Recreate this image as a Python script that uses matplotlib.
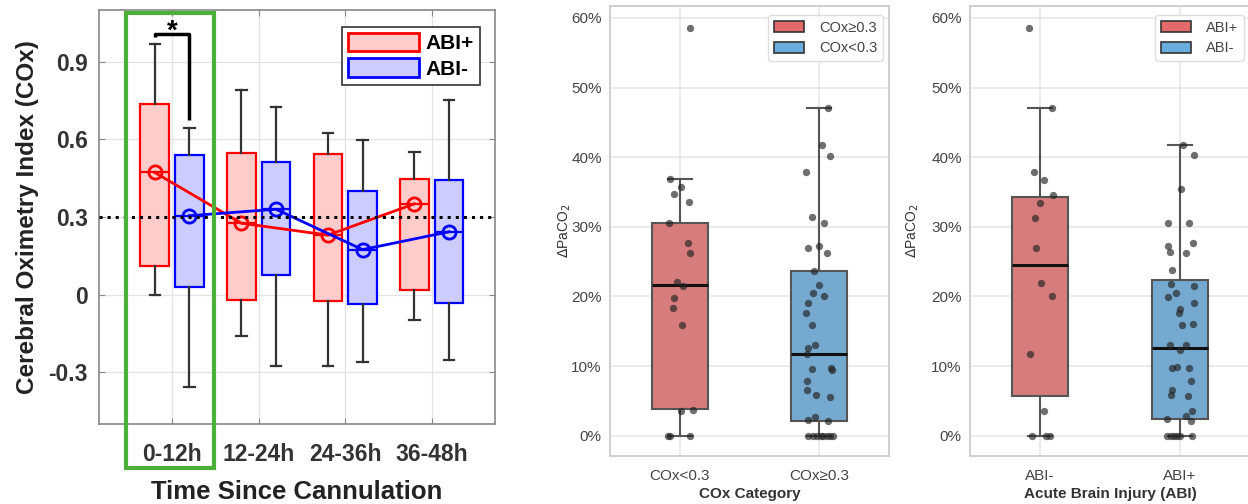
import matplotlib
matplotlib.use("Agg")
import matplotlib.pyplot as plt
from matplotlib.patches import Patch, Rectangle

plt.rcParams['font.family'] = ['Liberation Sans', 'DejaVu Sans']

# ---- panel 1: COx over time, ABI+ vs ABI- ----
groups = ['0-12h', '12-24h', '24-36h', '36-48h']
abi_pos_lo = [0.0, -0.158, -0.276, -0.098]
abi_pos_q1 = [0.109, -0.019, -0.026, 0.017]
abi_pos_med = [0.472, 0.276, 0.230, 0.351]
abi_pos_q3 = [0.736, 0.548, 0.545, 0.447]
abi_pos_hi = [0.970, 0.789, 0.623, 0.551]
abi_neg_lo = [-0.357, -0.274, -0.261, -0.252]
abi_neg_q1 = [0.031, 0.076, -0.037, -0.033]
abi_neg_med = [0.305, 0.330, 0.174, 0.243]
abi_neg_q3 = [0.539, 0.513, 0.402, 0.443]
abi_neg_hi = [0.643, 0.725, 0.598, 0.753]
cox_threshold = 0.3

# ---- panel 2: dPaCO2 by COx category ----
cox_cats = ['COx<0.3', 'COx\u22650.3']
cox_lo_vals = [58.6, 36.8, 34.7, 35.7, 33.6, 30.5, 27.7, 26.3, 22.1, 21.5, 19.8, 18.4,
               15.9, 3.6, 3.7, 0, 0, 0]
cox_lo_jit = [0.072, -0.072, -0.041, 0.007, 0.065, -0.079, 0.058, 0.074, -0.019, 0.022,
              -0.041, -0.048, 0.014, 0.010, 0.094, -0.085, -0.070, 0.070]
cox_hi_vals = [47.0, 41.7, 40.2, 37.8, 31.4, 30.5, 26.9, 27.2, 26.3, 23.7, 21.7, 20.5,
               20.1, 19.0, 17.7, 15.9, 13.1, 12.6, 11.8, 9.6, 9.7, 9.4, 7.9, 6.6, 5.8,
               5.5, 2.3, 2.7, 2.1, 0, 0, 0, 0, 0, 0, 0, 0]
cox_hi_jit = [0.060, 0.017, 0.077, -0.096, -0.050, 0.031, -0.084, -0.002, 0.055, -0.036,
              -0.005, -0.048, 0.036, -0.079, -0.096, -0.055, -0.029, -0.079, -0.091,
              -0.055, 0.084, 0.094, -0.086, -0.091, -0.026, 0.077, -0.079, -0.031, 0.065,
              -0.079, -0.048, -0.019, 0.010, 0.029, 0.053, 0.077, 0.100]
# box stats (whislo, q1, med, q3, whishi), percent
cox_lo_box = [0.0, 3.8, 21.6, 30.6, 36.8]
cox_hi_box = [0.0, 2.1, 11.8, 23.7, 47.0]

# ---- panel 3: dPaCO2 by ABI ----
abi_cats = ['ABI-', 'ABI+']
abi_neg_vals = [58.6, 47.0, 37.8, 36.7, 34.5, 33.4, 31.3, 26.9, 21.9, 20.0, 11.7, 3.6,
                0, 0, 0]
abi_neg_jit = [-0.076, 0.083, -0.045, 0.031, 0.090, 0.000, -0.038, -0.026, 0.009, 0.085,
               -0.073, 0.028, -0.057, 0.040, 0.071]
abi_pos_vals = [41.8, 40.3, 35.5, 30.5, 30.5, 27.3, 26.4, 26.2, 27.7, 23.8, 21.8, 21.5,
                20.5, 19.9, 19.1, 18.2, 17.7, 15.9, 16.0, 13.0, 13.1, 12.3, 9.7, 9.9,
                9.7, 7.9, 6.6, 5.9, 5.7, 3.6, 2.4, 2.9, 2.1, 0, 0, 0, 0, 0, 0]
abi_pos_jit = [0.024, 0.099, 0.005, -0.083, 0.061, -0.087, -0.071, 0.045, 0.092, -0.054,
               -0.066, 0.097, -0.026, -0.083, 0.097, 0.000, -0.007, 0.017, 0.095, -0.071,
               0.040, 0.000, -0.059, -0.019, 0.066, 0.076, -0.054, -0.066, 0.057, 0.087,
               -0.090, 0.043, 0.080, -0.090, -0.066, -0.043, -0.019, 0.000, 0.083]
abi_neg_box = [0.0, 5.7, 24.5, 34.3, 47.0]
abi_pos_box = [0.0, 2.4, 12.6, 22.3, 41.8]

W, H = 1248, 504
fig = plt.figure(figsize=(W / 100, H / 100), dpi=100)


def px_axes(left, top, right, bottom):
    return fig.add_axes([left / W, 1 - bottom / H, (right - left) / W, (bottom - top) / H])


def stats(lo, q1, med, q3, hi, fl=()):
    return dict(whislo=lo, q1=q1, med=med, q3=q3, whishi=hi, fliers=list(fl))


# ================= panel 1 =================
ax1 = px_axes(99, 10, 495, 424)
pos = list(range(1, len(groups) + 1))
series = [
    (-0.2, 'red', '#ffcccc', abi_pos_lo, abi_pos_q1, abi_pos_med, abi_pos_q3, abi_pos_hi),
    (0.2, 'blue', '#ccccff', abi_neg_lo, abi_neg_q1, abi_neg_med, abi_neg_q3, abi_neg_hi),
]
for off, col, fill, lo, q1, med, q3, hi in series:
    st = [stats(*v) for v in zip(lo, q1, med, q3, hi)]
    xs = [p + off for p in pos]
    ax1.bxp(st, positions=xs, widths=0.33, capwidths=0.12, showfliers=False,
            patch_artist=True, manage_ticks=False,
            boxprops=dict(facecolor=fill, edgecolor=col, linewidth=1.6),
            whiskerprops=dict(color='#333333', linewidth=1.6),
            capprops=dict(color='#333333', linewidth=1.6),
            medianprops=dict(color=col, linewidth=1.6))
    ax1.plot(xs, med, color=col, lw=2, marker='o', ms=9.5, mfc='none', mew=2, zorder=5)

ax1.axhline(cox_threshold, color='black', ls=':', lw=2.2, zorder=6)
# significance bracket
ax1.plot([0.8, 0.8, 1.2, 1.2], [0.995, 1.009, 1.009, 0.675], color='black', lw=2.5,
         solid_capstyle='butt', zorder=6)
ax1.text(1.0, 0.99, '*', ha='center', va='baseline', fontsize=20, fontweight='bold',
         zorder=8)
ax1.add_patch(Rectangle((0.468, -0.669), 1.018, 1.757, fill=False, ec='#4caf3a', lw=3,
                        clip_on=False, zorder=7))

ax1.set_xlim(0.156, 4.73)
ax1.set_ylim(-0.5, 1.1)
ax1.set_xticks(pos)
ax1.set_xticklabels(groups)
ax1.set_yticks([-0.3, 0, 0.3, 0.6, 0.9])
ax1.set_yticklabels(['-0.3', '0', '0.3', '0.6', '0.9'])
ax1.grid(True, color='#e3e3e3', lw=0.9)
ax1.set_axisbelow(True)
ax1.tick_params(direction='in', length=4, color='#888888', top=True, right=True,
                labelsize=16.5, labelcolor='#333333')
ax1.tick_params(axis='x', pad=14)
ax1.tick_params(axis='y', pad=8)
for lab in ax1.get_xticklabels() + ax1.get_yticklabels():
    lab.set_fontweight('bold')
for s in ax1.spines.values():
    s.set_color('#888888')
    s.set_linewidth(1.2)
ax1.set_xlabel('Time Since Cannulation', fontsize=18.5, fontweight='bold', color='#222222')
ax1.xaxis.set_label_coords(0.5, -0.135)
ax1.set_ylabel('Cerebral Oximetry Index (COx)', fontsize=17.5, fontweight='bold',
               color='#222222')
ax1.yaxis.set_label_coords(-0.152, 0.5)
leg = ax1.legend([Patch(fc='#ffcccc', ec='red', lw=2), Patch(fc='#ccccff', ec='blue', lw=2)],
                 ['ABI+', 'ABI-'], loc='upper right', bbox_to_anchor=(0.962, 0.96),
                 prop=dict(size=15, weight='bold'), handlelength=3.4, handleheight=1.0,
                 fancybox=False, edgecolor='#333333', framealpha=1, borderpad=0.3,
                 labelspacing=0.25, handletextpad=0.3, borderaxespad=0)
leg.get_frame().set_linewidth(1.2)

# ================= panels 2 & 3 =================
red_box, blue_box = '#d77c7c', '#76a9cf'
red_leg, blue_leg = '#e46a6a', '#6aaee0'


def strip_panel(ax, cats, vals, jits, boxes, xlabel, leg_labels, ylab_x):
    st = [stats(*[v / 100 for v in b]) for b in boxes]
    parts = ax.bxp(st, positions=[0, 1], widths=0.4, capwidths=0.17, showfliers=False,
                   patch_artist=True, manage_ticks=False,
                   boxprops=dict(edgecolor='#555555', linewidth=1.5),
                   whiskerprops=dict(color='#555555', linewidth=1.5),
                   capprops=dict(color='#555555', linewidth=1.5),
                   medianprops=dict(color='#111111', linewidth=2.2))
    for b, c in zip(parts['boxes'], [red_box, blue_box]):
        b.set_facecolor(c)
    for i, (v, j) in enumerate(zip(vals, jits)):
        ax.scatter([i + d for d in j], [x / 100 for x in v], s=28, color='#222222',
                   alpha=0.65, lw=0, zorder=4)
    ax.set_xlim(-0.5, 1.5)
    ax.set_ylim(-0.029, 0.617)
    ax.set_xticks([0, 1])
    ax.set_xticklabels(cats)
    ax.set_yticks([0, 0.1, 0.2, 0.3, 0.4, 0.5, 0.6])
    ax.set_yticklabels(['0%', '10%', '20%', '30%', '40%', '50%', '60%'])
    ax.grid(True, color='#e6e6e6', lw=1.1)
    ax.set_axisbelow(True)
    ax.tick_params(length=0, labelsize=11, labelcolor='#444444', pad=6)
    ax.tick_params(axis='x', pad=9)
    for s in ax.spines.values():
        s.set_color('#cccccc')
        s.set_linewidth(1.3)
    ax.set_xlabel(xlabel, fontsize=11, fontweight='bold', color='#333333', labelpad=3)
    ax.set_ylabel(r'$\Delta$PaCO$_2$', fontsize=10, color='#333333')
    ax.yaxis.set_label_coords(ylab_x, 0.5)
    ax.legend([Patch(fc=red_leg, ec='#333333', lw=1.2),
               Patch(fc=blue_leg, ec='#333333', lw=1.2)], leg_labels,
              loc='upper right', bbox_to_anchor=(0.978, 0.98), fontsize=10.5,
              handlelength=2.1, handleheight=0.75, borderaxespad=0,
              labelcolor='#444444', edgecolor='#dddddd', framealpha=1,
              handletextpad=1.0, labelspacing=0.45)


ax2 = px_axes(610, 6, 889, 456)
strip_panel(ax2, cox_cats, [cox_lo_vals, cox_hi_vals], [cox_lo_jit, cox_hi_jit],
            [cox_lo_box, cox_hi_box], 'COx Category', ['COx\u22650.3', 'COx<0.3'], -0.133)

ax3 = px_axes(970, 6, 1250, 456)
strip_panel(ax3, abi_cats, [abi_neg_vals, abi_pos_vals], [abi_neg_jit, abi_pos_jit],
            [abi_neg_box, abi_pos_box], 'Acute Brain Injury (ABI)', ['ABI+', 'ABI-'], -0.175)

fig.savefig('out.png', dpi=100, facecolor='white')
